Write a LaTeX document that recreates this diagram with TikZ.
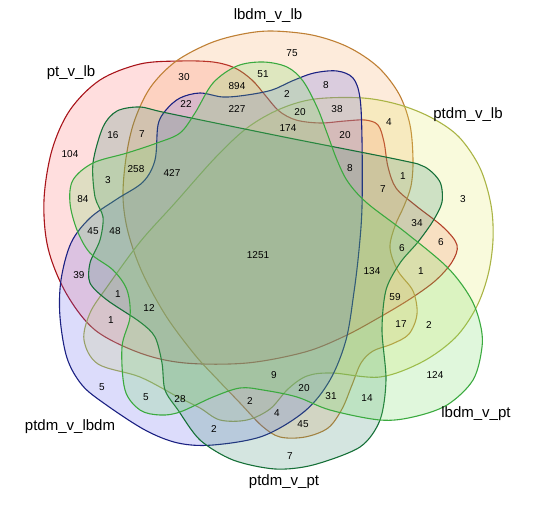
\documentclass[tikz,border=0pt]{standalone}
\usepackage{fontspec}
\setmainfont{Liberation Sans}
\usetikzlibrary{positioning}
\definecolor{ptlb}{HTML}{A8141A}
\definecolor{lbdmlb}{HTML}{BF8035}
\definecolor{ptdmlb}{HTML}{AAB445}
\definecolor{ptdmlbdm}{HTML}{1B2183}
\definecolor{ptdmpt}{HTML}{167038}
\definecolor{lbdmpt}{HTML}{3BAA3F}
\definecolor{ptlbfill}{HTML}{FF6A6A}
\definecolor{lbdmlbfill}{HTML}{F5A55A}
\definecolor{ptdmlbfill}{HTML}{E2E860}
\definecolor{ptdmlbdmfill}{HTML}{6060EC}
\definecolor{ptdmptfill}{HTML}{3A8A70}
\definecolor{lbdmptfill}{HTML}{70DC60}

\begin{document}
\begin{tikzpicture}[
    x=1pt, y=-1pt,
    vset/.style={line width=1.1pt, fill opacity=0.22},
    setlabel/.style={font=\fontsize{15}{17}\selectfont, inner sep=1pt},
    num/.style={font=\fontsize{10}{12}\selectfont, inner sep=1pt}
]
    \useasboundingbox (0,0) rectangle (540,505);

    % pt_v_lb
    \path[vset, draw=ptlb, fill=ptlbfill] plot[smooth cycle, tension=0.55] coordinates {
        (180,61) (213,62) (235,68) (252,80) (265,95) (279,111) (296,120) (320,123)
        (345,121) (365,120) (378,125) (384,142) (388,167) (396,188) (415,205)
        (443,227) (457,245) (452,262) (435,281) (410,299) (380,317) (345,336)
        (305,352) (247,363) (185,363) (140,353) (95,330) (66,293) (48,248)
        (44,200) (52,150) (70,110) (100,80) (140,64)};

    % lbdm_v_lb
    \path[vset, draw=lbdmlb, fill=lbdmlbfill] plot[smooth cycle, tension=0.55] coordinates {
        (270,31) (312,35) (348,47) (378,67) (399,94) (410,125) (413,160) (411,186)
        (404,206) (395,226) (390,248) (398,271) (413,291) (417,314) (409,334)
        (392,344) (373,351) (361,363) (352,385) (342,409) (328,428) (305,437)
        (280,437) (262,426) (240,403) (218,380) (195,355) (166,316) (142,272)
        (128,232) (123,197) (126,158) (134,122) (150,88) (175,62) (208,44) (238,35)};

    % ptdm_v_lb
    \path[vset, draw=ptdmlb, fill=ptdmlbfill] plot[smooth cycle, tension=0.55] coordinates {
        (90,313) (107,287) (140,242) (175,203) (215,158) (247,128) (280,109)
        (315,99) (363,98) (400,105) (432,118) (459,137) (480,168) (491,205)
        (493,240) (488,275) (476,308) (455,338) (422,362) (380,377) (332,373)
        (307,376) (288,389) (270,409) (247,420) (220,420) (200,408) (178,397)
        (140,377) (98,364) (84,340)};

    % ptdm_v_lbdm
    \path[vset, draw=ptdmlbdm, fill=ptdmlbdmfill] plot[smooth cycle, tension=0.55] coordinates {
        (158,125) (166,110) (180,98) (200,93) (223,97) (247,95) (272,90) (292,81)
        (314,73) (337,71) (353,78) (360,98) (362,140) (362,207) (359,250)
        (354,292) (346,340) (330,380) (305,411) (263,436) (213,445) (178,443)
        (145,430) (105,404) (82,385) (67,358) (60,317) (61,280) (71,243) (90,218)
        (117,199) (143,182) (155,160)};

    % ptdm_v_pt
    \path[vset, draw=ptdmpt, fill=ptdmptfill] plot[smooth cycle, tension=0.5] coordinates {
        (103,127) (117,111) (140,107) (167,113) (284,137) (400,160) (425,167)
        (440,182) (442,202) (433,221) (418,242) (400,263) (386,290) (382,330)
        (386,380) (380,420) (360,447) (313,465) (275,469) (233,460) (200,440)
        (178,410) (165,390) (162,363) (155,337) (140,322) (107,300) (90,283)
        (90,263) (100,240) (103,217) (95,197) (93,163)};

    % lbdm_v_pt
    \path[vset, draw=lbdmpt, fill=lbdmptfill] plot[smooth cycle, tension=0.55] coordinates {
        (237,66) (263,62) (287,67) (303,81) (317,107) (327,133) (337,160)
        (348,182) (367,203) (405,232) (447,267) (470,297) (480,323) (482,347)
        (473,380) (447,405) (413,417) (380,420) (330,410) (297,397) (263,390)
        (240,388) (213,397) (180,412) (160,415) (140,410) (125,390) (122,347)
        (130,317) (127,290) (113,270) (90,253) (77,230) (70,203) (73,180)
        (93,163) (127,153) (157,143) (180,133) (195,113) (213,83)};

    % set names
    \node[setlabel] (lbdmlbname) at (268,16) {lbdm\_v\_lb};
    \node[setlabel] (ptlbname) at (71,73) {pt\_v\_lb};
    \node[setlabel] (ptdmlbname) at (468,115) {ptdm\_v\_lb};
    \node[setlabel] (lbdmptname) at (476,414) {lbdm\_v\_pt};
    \node[setlabel] (ptdmptname) at (284,482) {ptdm\_v\_pt};
    \node[setlabel] (ptdmlbdmname) at (70,427) {ptdm\_v\_lbdm};

    % region counts
    \foreach \x/\y/\v [count=\i] in {
        184/77/30, 237/86/894, 263/74/51, 292/53/75, 326/85/8, 287/94/2,
        186/104/22, 237/109/227, 300/112/20, 337/109/38, 288/128/174,
        345/135/20, 389/122/4, 113/135/16, 142/134/7, 70/154/104,
        136/169/258, 172/173/427, 108/180/3, 83/199/84, 350/168/8,
        403/176/1, 383/189/7, 463/199/3, 93/231/45, 115/231/48,
        258/255/1251, 79/275/39, 118/294/1, 149/308/12, 111/320/1,
        417/223/34, 402/248/6, 441/242/6, 372/271/134, 421/271/1,
        395/297/59, 401/324/17, 429/325/2, 435/375/124, 102/387/5,
        146/397/5, 180/399/28, 250/401/2, 214/429/2, 274/375/9,
        304/388/20, 331/396/31, 367/398/14, 277/413/4, 303/424/45, 290/456/7}
        \node[num] (n\i) at (\x,\y) {\v};
\end{tikzpicture}
\end{document}
